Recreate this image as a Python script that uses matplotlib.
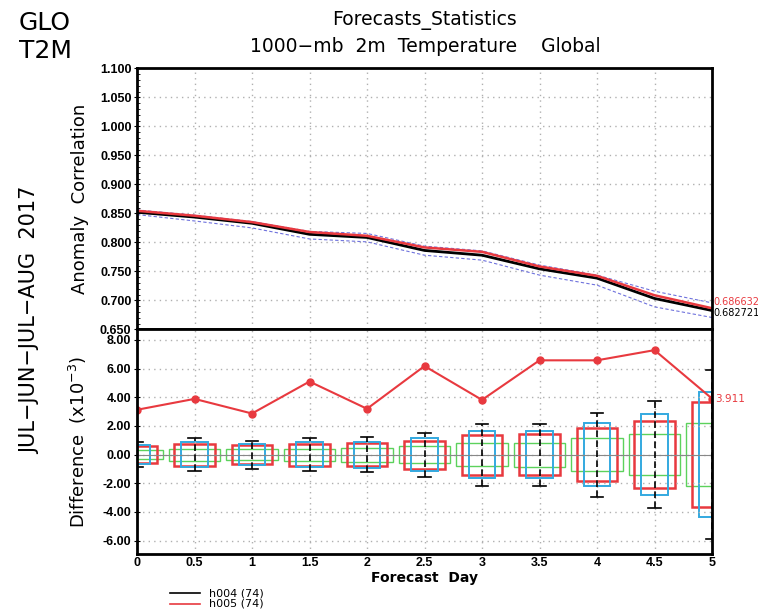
import matplotlib
matplotlib.use('Agg')
import matplotlib.pyplot as plt
from matplotlib.patches import Rectangle
from matplotlib.lines import Line2D

# forecast days
days = [0, 0.5, 1, 1.5, 2, 2.5, 3, 3.5, 4, 4.5, 5]

# anomaly correlation (top panel)
ac_h004 = [0.852, 0.8437, 0.833, 0.814, 0.8086, 0.7862, 0.778, 0.7545, 0.7385, 0.7035, 0.682721]
ac_h005 = [0.8545, 0.846, 0.835, 0.818, 0.8114, 0.7914, 0.7838, 0.7586, 0.7425, 0.709, 0.686632]
ci_upper = [0.856, 0.847, 0.836, 0.819, 0.8155, 0.7936, 0.7855, 0.761, 0.7437, 0.716, 0.6959]
ci_lower = [0.848, 0.837, 0.825, 0.806, 0.801, 0.778, 0.7695, 0.7437, 0.7264, 0.689, 0.6707]

# difference h005 - h004 (x10^-3) and significance half-ranges
diff = [3.13, 3.89, 2.87, 5.1, 3.2, 6.18, 3.82, 6.58, 6.58, 7.29, 3.911]
err_bar = [0.86, 1.16, 0.97, 1.14, 1.21, 1.54, 2.17, 2.17, 2.92, 3.71, 5.9]
red_box = [0.57, 0.77, 0.65, 0.77, 0.81, 0.98, 1.4, 1.41, 1.84, 2.35, 3.68]
blue_box = [0.67, 0.87, 0.72, 0.86, 0.91, 1.17, 1.65, 1.66, 2.22, 2.82, 4.38]
green_box = [0.33, 0.41, 0.37, 0.41, 0.49, 0.61, 0.82, 0.83, 1.13, 1.41, 2.21]

ac_ticks = [0.65, 0.70, 0.75, 0.80, 0.85, 0.90, 0.95, 1.00, 1.05, 1.10]
diff_ticks = [-6, -4, -2, 0, 2, 4, 6, 8]
day_labels = ['0', '0.5', '1', '1.5', '2', '2.5', '3', '3.5', '4', '4.5', '5']

RED = '#e8393f'
BLUE = '#33a9e0'
GREEN = '#5cd25c'
DASHBLUE = '#6f72dd'

W, H = 758, 613
fig = plt.figure(figsize=(W / 100, H / 100), dpi=100)

ax_l, ax_r = 137 / W, 712 / W
top_t, mid, bot_b = 1 - 68.3 / H, 1 - 329.5 / H, 1 - 554 / H
ax1 = fig.add_axes([ax_l, mid, ax_r - ax_l, top_t - mid])
ax2 = fig.add_axes([ax_l, bot_b, ax_r - ax_l, mid - bot_b], sharex=ax1)

tick_font = dict(family=['Liberation Sans', 'DejaVu Sans'], weight='bold', size=9)
grid_style = dict(color='#b0b0b0', ls=(0, (1, 3)), lw=1)

# ---- top panel
ax1.plot(days, ci_upper, color=DASHBLUE, lw=0.8, ls=(0, (3, 2)))
ax1.plot(days, ci_lower, color=DASHBLUE, lw=0.8, ls=(0, (3, 2)))
ax1.plot(days, ac_h004, color='black', lw=2)
ax1.plot(days, ac_h005, color=RED, lw=1.8)
ax1.set_ylim(0.65, 1.10)
ax1.set_xlim(0, 5)
ax1.set_yticks(ac_ticks)
ax1.set_yticklabels(['%.3f' % t for t in ac_ticks], **tick_font)
ax1.set_yticks([v / 100 for v in range(65, 111)], minor=True)
ax1.tick_params(axis='y', which='major', length=4, direction='inout', pad=2)
ax1.tick_params(axis='y', which='minor', length=2, direction='in')
ax1.tick_params(axis='x', length=0, labelbottom=False)
ax1.grid(True, **grid_style)
ax1.set_ylabel('Anomaly  Correlation', fontsize=13)
# end values, nudged apart so they can be read
ax1.text(5.01, ac_h005[-1] + 0.0105, '%.6f' % ac_h005[-1], color=RED, fontsize=7,
         va='center', ha='left', clip_on=False)
ax1.text(5.01, ac_h004[-1] - 0.0045, '%.6f' % ac_h004[-1], color='black', fontsize=7,
         va='center', ha='left', clip_on=False)

# ---- bottom panel
ax2.axhline(0, color='#888888', lw=0.8)
for i, d in enumerate(days):
    for hw, half, col, lw in [(0.225, green_box[i], GREEN, 1.0),
                              (0.178, red_box[i], RED, 1.8),
                              (0.115, blue_box[i], BLUE, 1.4)]:
        ax2.add_patch(Rectangle((d - hw, -half), 2 * hw, 2 * half, fill=False,
                                edgecolor=col, lw=lw))
    e = err_bar[i]
    ax2.plot([d, d], [-e, e], color='black', lw=1.2, ls=(0, (4, 2)))
    ax2.plot([d - 0.055, d + 0.055], [e, e], color='black', lw=1.2)
    ax2.plot([d - 0.055, d + 0.055], [-e, -e], color='black', lw=1.2)
ax2.plot(days, diff, color=RED, lw=1.5, marker='o', ms=5)
ax2.text(5.03, diff[-1], '%.3f' % diff[-1], color=RED, fontsize=7.5, va='center',
         ha='left', clip_on=False)
ax2.set_ylim(-6.93, 8.73)
ax2.set_yticks(diff_ticks)
ax2.set_yticklabels(['%.2f' % t for t in diff_ticks], **tick_font)
ax2.set_xticks(days)
ax2.set_xticklabels(day_labels, **tick_font)
ax2.tick_params(axis='y', length=4, direction='inout', pad=2)
ax2.tick_params(axis='x', length=0, pad=2)
ax2.grid(True, **grid_style)
ax2.set_ylabel('Difference  (x10$^{-3}$)', fontsize=13)
ax2.set_xlabel('Forecast  Day', fontsize=10, fontweight='bold', labelpad=0)
ax2.xaxis.set_label_coords(0.5, -0.075)

for ax in (ax1, ax2):
    for s in ax.spines.values():
        s.set_linewidth(2)

ax1.yaxis.set_label_coords(-0.083, 0.5)
ax2.yaxis.set_label_coords(-0.083, 0.5)

# ---- titles and side texts
fig.text(425 / W, 1 - 20 / H, 'Forecasts_Statistics', ha='center', va='center', fontsize=13.5)
fig.text(425 / W, 1 - 47 / H, '1000\u2212mb  2m  Temperature    Global', ha='center',
         va='center', fontsize=13.5)
fig.text(19 / W, 1 - 30 / H, 'GLO', ha='left', va='baseline', fontsize=18)
fig.text(19 / W, 1 - 58 / H, 'T2M', ha='left', va='baseline', fontsize=18)
fig.text(30 / W, 1 - 320 / H, 'JUL\u2212JUN\u2212JUL\u2212AUG  2017', rotation=90,
         ha='center', va='center', fontsize=15)

# legend under the chart
fig.add_artist(Line2D([170 / W, 200 / W], [1 - 593 / H, 1 - 593 / H], color='black', lw=1.2))
fig.add_artist(Line2D([170 / W, 200 / W], [1 - 604 / H, 1 - 604 / H], color=RED, lw=1.2))
fig.text(209 / W, 1 - 593 / H, 'h004 (74)', fontsize=8, va='center')
fig.text(209 / W, 1 - 604 / H, 'h005 (74)', fontsize=8, va='center')

fig.savefig('out.png', dpi=100)
